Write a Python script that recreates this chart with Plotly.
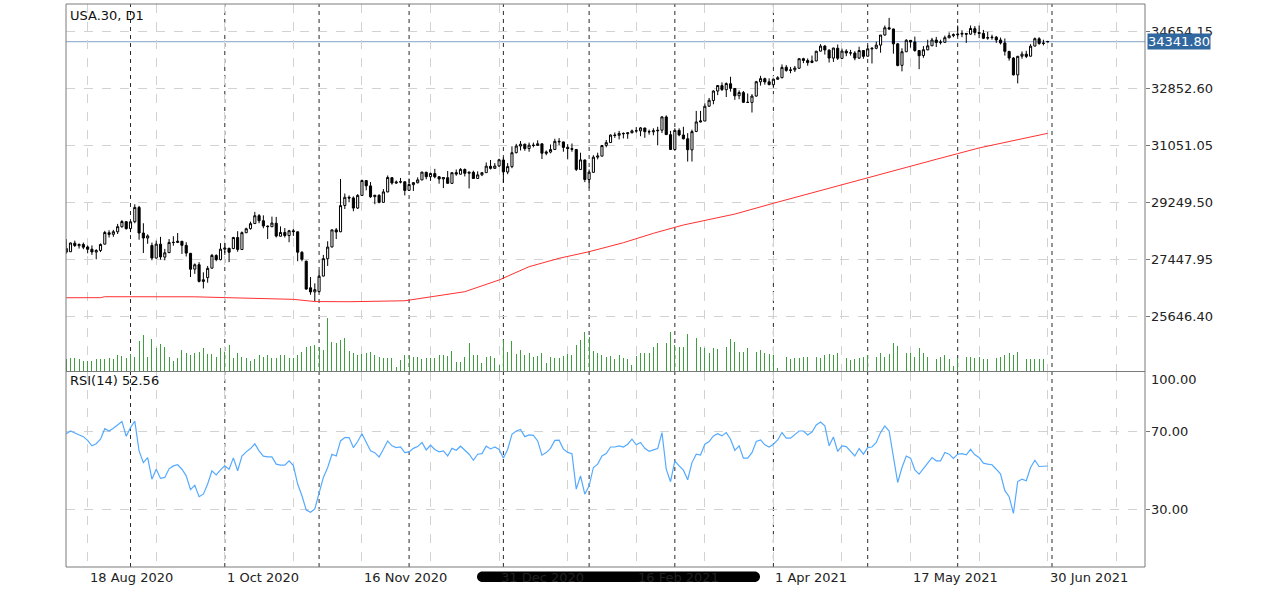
import plotly.graph_objects as go

# ---------------- data ----------------
dates = (
    ["2020-08-%02d" % d for d in (11, 12, 13, 14, 17, 18, 19, 20, 21, 24, 25, 26, 27, 28, 31)]
    + ["2020-09-%02d" % d for d in (1, 2, 3, 4, 7, 8, 9, 10, 11, 14, 15, 16, 17, 18, 21, 22, 23, 24, 25, 28, 29, 30)]
    + ["2020-10-%02d" % d for d in (1, 2, 5, 6, 7, 8, 9, 12, 13, 14, 15, 16, 19, 20, 21, 22, 23, 26, 27, 28, 29, 30)]
    + ["2020-11-%02d" % d for d in (2, 3, 4, 5, 6, 9, 10, 11, 12, 13, 16, 17, 18, 19, 20, 23, 24, 25, 26, 27, 30)]
    + ["2020-12-%02d" % d for d in (1, 2, 3, 4, 7, 8, 9, 10, 11, 14, 15, 16, 17, 18, 21, 22, 23, 24, 28, 29, 30, 31)]
    + ["2021-01-%02d" % d for d in (4, 5, 6, 7, 8, 11, 12, 13, 14, 15, 18, 19, 20, 21, 22, 25, 26, 27, 28, 29)]
    + ["2021-02-%02d" % d for d in (1, 2, 3, 4, 5, 8, 9, 10, 11, 12, 15, 16, 17, 18, 19, 22, 23, 24, 25, 26)]
    + ["2021-03-%02d" % d for d in (1, 2, 3, 4, 5, 8, 9, 10, 11, 12, 15, 16, 17, 18, 19, 22, 23, 24, 25, 26, 29, 30, 31)]
    + ["2021-04-%02d" % d for d in (1, 2, 5, 6, 7, 8, 9, 12, 13, 14, 15, 16, 19, 20, 21, 22, 23, 26, 27, 28, 29, 30)]
    + ["2021-05-%02d" % d for d in (3, 4, 5, 6, 7, 10, 11, 12, 13, 14, 17, 18, 19, 20, 21, 24, 25, 26, 27, 28, 31)]
    + ["2021-06-%02d" % d for d in (1, 2, 3, 4, 7, 8, 9, 10, 11, 14, 15, 16, 17, 18, 21, 22, 23, 24, 25, 28, 29, 30)]
)

opens = [
    27800, 27700, 27970, 27890, 27930, 27850, 27780, 27690, 27740, 27940,
    28300, 28250, 28330, 28490, 28650, 28430, 28650, 29100, 28290, 28133,
    27900, 27500, 27940, 27530, 27670, 27990, 27990, 28030, 27900, 27650,
    27150, 27290, 26760, 26880, 27180, 27580, 27450, 27780, 27810, 27800,
    28150, 27770, 28300, 28430, 28590, 28840, 28680, 28510, 28490, 28600,
    28190, 28310, 28210, 28360, 28330, 27680, 27400, 26560, 26430, 26440,
    26930, 27480, 27850, 28390, 28330, 29160, 29420, 29400, 29080, 29480,
    29950, 29780, 29440, 29480, 29260, 29590, 30040, 29870, 29900, 29910,
    29640, 29820, 29880, 29970, 30210, 30070, 30170, 30070, 30000, 30040,
    29860, 30200, 30150, 30300, 30180, 30210, 30015, 30130, 30200, 30400,
    30335, 30410, 30600, 30220, 30390, 30830, 31040, 31100, 30960, 31070,
    31060, 31110, 30810, 30850, 30930, 31190, 31170, 31000, 30960, 30930,
    30300, 30600, 29983, 30210, 30690, 30720, 31060, 31150, 31390, 31380,
    31440, 31430, 31460, 31520, 31520, 31610, 31490, 31490, 31520, 31540,
    31960, 31400, 30930, 31535, 31390, 31270, 30920, 31500, 31800, 31830,
    32300, 32480, 32780, 32950, 32820, 33010, 32860, 32630, 32730, 32420,
    32420, 32620, 33070, 33170, 33070, 32980, 33150, 33200, 33530, 33430,
    33450, 33500, 33800, 33740, 33680, 33730, 34040, 34200, 34070, 33820,
    34130, 33810, 34040, 33980, 33980, 33820, 34060, 33880, 34110, 34130,
    34230, 34550, 34780, 34740, 34270, 33590, 34020, 34380, 34330, 34060,
    33900, 34080, 34210, 34390, 34310, 34320, 34460, 34530, 34560, 34575,
    34600, 34577, 34750, 34630, 34600, 34450, 34466, 34480, 34393, 34300,
    34030, 33820, 33290, 33880, 33945, 33880, 34200, 34430, 34283, 34330,
]
highs = [
    28100, 27990, 28050, 27960, 27990, 27900, 27900, 27780, 27960, 28360,
    28380, 28390, 28580, 28700, 28660, 28660, 29199, 29150, 28600, 28250,
    27990, 28050, 28170, 27790, 28100, 28190, 28290, 28040, 28000, 27660,
    27330, 27370, 27050, 27250, 27630, 27620, 27970, 27980, 27810, 28170,
    28350, 28340, 28460, 28650, 28960, 28890, 28850, 28530, 28810, 28800,
    28500, 28450, 28390, 28420, 28330, 27720, 27420, 26900, 26700, 27100,
    27600, 28030, 28400, 28450, 30000, 29540, 29480, 29450, 29520, 29980,
    29960, 29900, 29500, 29520, 29680, 30110, 30060, 29950, 30030, 29920,
    30010, 29900, 30050, 30220, 30230, 30200, 30320, 30090, 30050, 30250,
    30200, 30300, 30340, 30330, 30220, 30260, 30240, 30210, 30520, 30600,
    30500, 30640, 30680, 30500, 31030, 31110, 31200, 31110, 31150, 31150,
    31220, 31120, 30900, 31090, 31270, 31290, 31180, 31100, 31120, 30950,
    30830, 30610, 30300, 30750, 30830, 31070, 31230, 31410, 31470, 31520,
    31470, 31470, 31560, 31640, 31640, 31620, 31560, 31600, 31650, 31980,
    32010, 31520, 31600, 31600, 31650, 31450, 31560, 32150, 32150, 32390,
    32560, 32800, 32960, 33050, 33050, 33230, 32870, 32800, 32780, 32700,
    32680, 33100, 33260, 33200, 33180, 33170, 33250, 33620, 33600, 33540,
    33570, 33810, 33830, 33810, 33900, 34050, 34260, 34230, 34100, 34150,
    34250, 34120, 34100, 34080, 34040, 34180, 34060, 34220, 34150, 34340,
    34550, 34850, 35090, 34750, 34290, 34130, 34420, 34390, 34500, 34070,
    34200, 34400, 34460, 34490, 34400, 34530, 34630, 34600, 34850, 34700,
    34610, 34850, 34830, 34850, 34710, 34650, 34560, 34520, 34470, 34440,
    34050, 33850, 33890, 34030, 34050, 34260, 34470, 34480, 34400, 34350,
]
lows = [
    27640, 27690, 27850, 27800, 27780, 27650, 27600, 27460, 27690, 27930,
    28150, 28170, 28260, 28460, 28400, 28320, 28600, 28080, 27660, 27950,
    27430, 27490, 27450, 27430, 27660, 27890, 27980, 27630, 27550, 26900,
    27000, 26730, 26540, 26720, 27170, 27400, 27430, 27660, 27370, 27780,
    27700, 27760, 28290, 28400, 28580, 28600, 28440, 28100, 28480, 28150,
    28180, 28150, 28000, 28200, 27400, 27400, 26500, 26340, 26140, 26420,
    26920, 27250, 27840, 28100, 28320, 29050, 29260, 28980, 29050, 29470,
    29640, 29400, 29200, 29230, 29250, 29580, 29820, 29840, 29860, 29480,
    29630, 29620, 29860, 29960, 29990, 29940, 30020, 29850, 29710, 29850,
    29850, 30100, 30140, 30080, 29700, 30000, 30000, 30090, 30200, 30300,
    30330, 30380, 29880, 30150, 30340, 30810, 30900, 30890, 30860, 31000,
    31050, 30630, 30750, 30810, 30920, 31070, 30860, 30620, 30860, 30250,
    30290, 29900, 29720, 30200, 30620, 30720, 31000, 31140, 31300, 31250,
    31280, 31270, 31440, 31460, 31350, 31300, 31400, 31380, 31060, 31450,
    31390, 30930, 30920, 31350, 31250, 30550, 30550, 31480, 31790, 31830,
    32280, 32360, 32650, 32780, 32590, 32760, 32500, 32520, 32400, 32400,
    32100, 32600, 32950, 32980, 32960, 32880, 33140, 33180, 33390, 33340,
    33380, 33480, 33660, 33580, 33660, 33720, 34030, 33930, 33680, 33700,
    33760, 33800, 33880, 33900, 33750, 33790, 33800, 33870, 33650, 34100,
    33990, 34530, 34710, 33960, 33560, 33400, 34010, 34150, 34020, 33470,
    33830, 34070, 34200, 34170, 34250, 34300, 34450, 34480, 34500, 34480,
    34300, 34560, 34540, 34450, 34420, 34400, 34400, 34300, 34250, 33900,
    33740, 33270, 33020, 33800, 33820, 33870, 34190, 34240, 34220, 34330,
]
closes = [
    27686, 27976, 27896, 27931, 27844, 27778, 27692, 27739, 27930, 28308,
    28249, 28332, 28492, 28654, 28430, 28646, 29100, 28292, 28133, 28200,
    27500, 27940, 27535, 27666, 27993, 27995, 28032, 27902, 27657, 27148,
    27288, 26763, 26815, 27174, 27584, 27452, 27782, 27817, 27683, 28149,
    27773, 28303, 28426, 28587, 28838, 28680, 28514, 28494, 28606, 28195,
    28309, 28211, 28364, 28336, 27685, 27463, 26520, 26430, 26502, 26925,
    27481, 27848, 28391, 28323, 29158, 29421, 29398, 29080, 29480, 29950,
    29784, 29438, 29483, 29263, 29591, 30046, 29873, 29900, 29910, 29639,
    29824, 29884, 29970, 30218, 30070, 30174, 30068, 29999, 30046, 29862,
    30199, 30155, 30303, 30179, 30216, 30015, 30129, 30199, 30404, 30335,
    30409, 30606, 30223, 30391, 30829, 31041, 31098, 30960, 31068, 31060,
    31112, 30814, 30850, 30930, 31188, 31176, 30997, 30960, 30937, 30303,
    30603, 29983, 30212, 30688, 30724, 31056, 31148, 31386, 31375, 31438,
    31431, 31458, 31520, 31523, 31613, 31494, 31494, 31522, 31537, 31962,
    31402, 30932, 31535, 31392, 31270, 30924, 31496, 31802, 31833, 32297,
    32486, 32779, 32953, 32826, 33015, 32863, 32628, 32731, 32423, 32420,
    32619, 33073, 33171, 33067, 32982, 33153, 33200, 33527, 33430, 33446,
    33504, 33801, 33746, 33677, 33731, 34036, 34200, 34078, 33821, 34137,
    33815, 34043, 33982, 33985, 33820, 34060, 33875, 34113, 34133, 34230,
    34548, 34778, 34743, 34270, 33587, 34021, 34382, 34327, 34061, 33896,
    34084, 34208, 34394, 34313, 34323, 34465, 34529, 34560, 34575, 34600,
    34577, 34756, 34630, 34600, 34447, 34466, 34480, 34393, 34299, 34033,
    33823, 33290, 33876, 33945, 33874, 34196, 34433, 34283, 34292, 34341.8,
]
volumes = [
    13000, 13200, 13200, 12200, 10800, 10500, 10800, 12200, 12200, 12200,
    13200, 12200, 16200, 15500, 13200, 17500, 14800, 30500, 36500, 14800,
    32200, 23800, 27500, 24800, 14800, 10800, 13200, 21500, 18500, 16500,
    18800, 19800, 23200, 17500, 17200, 14800, 23200, 19800, 26500, 13200,
    18200, 14800, 13200, 10800, 12200, 16500, 14800, 16500, 13200, 13200,
    16500, 16500, 13200, 13200, 16500, 19800, 24500, 25500, 26500, 24800,
    21500, 53200, 29800, 28200, 31500, 33200, 20800, 18800, 16500, 17500,
    18200, 19800, 16500, 14800, 13200, 13200, 13200, 4800, 11500, 16500,
    15500, 14800, 14200, 12200, 13200, 13500, 14000, 16500, 16500, 15500,
    20800, 9800, 9800, 14200, 28200, 16500, 16500, 8200, 14800, 15500,
    13200, 6500, 31500, 19800, 30800, 17500, 21500, 16500, 18800, 14800,
    15500, 18200, 8200, 14800, 14000, 14000, 15500, 17500, 16500, 26500,
    31500, 39800, 34200, 20800, 18800, 16500, 14800, 15500, 12200, 16500,
    13200, 12200, 6500, 15500, 18200, 18800, 18200, 24800, 28200, 27500,
    28200, 39800, 26500, 24800, 24800, 37500, 39200, 33200, 24800, 23200,
    18800, 23200, 22200, 22200, 24800, 32200, 29800, 19800, 19800, 23200,
    26500, 19800, 21500, 18200, 17500, 16500, 3200, 11500, 14800, 12200,
    13200, 13200, 14800, 14800, 14800, 14800, 13200, 16500, 17500, 16500,
    18200, 13200, 13200, 11500, 12200, 13200, 14800, 16500, 18200, 14800,
    18200, 14800, 17500, 28200, 25500, 23200, 18200, 18800, 14800, 23200,
    18200, 14800, 14200, 12200, 14800, 16500, 12200, 5500, 13200, 14800,
    14200, 14200, 13200, 14200, 12200, 12200, 12200, 13200, 14800, 16500,
    18200, 16500, 19800, 13200, 12200, 12200, 12200, 12200, 12200, 1000,
]
rsi = [
    69.1, 70.5, 69.5, 68.5, 67.6, 65.7, 62.9, 64.0, 66.3, 71.7,
    70.5, 71.9, 73.9, 75.4, 67.8, 72.2, 75.6, 60.3, 54.3, 56.9,
    45.8, 50.9, 46.2, 46.7, 51.1, 52.6, 53.2, 50.9, 47.5, 40.4,
    42.6, 36.8, 38.1, 43.3, 50.1, 48.0, 50.6, 52.6, 50.9, 56.7,
    50.1, 57.7, 59.8, 61.5, 63.9, 60.3, 57.6, 57.2, 57.2, 53.5,
    53.0, 53.0, 55.2, 52.8, 43.3, 37.3, 30.0, 28.8, 30.5, 39.3,
    46.7, 51.8, 58.6, 57.7, 65.4, 67.1, 67.1, 62.0, 65.1, 69.1,
    64.6, 60.3, 59.4, 57.2, 61.1, 65.4, 62.9, 62.0, 62.3, 59.4,
    59.8, 61.6, 62.5, 64.6, 60.8, 63.2, 61.0, 59.8, 60.3, 57.7,
    61.6, 60.6, 62.7, 60.6, 58.6, 55.5, 58.6, 58.9, 62.7, 61.3,
    62.3, 61.0, 56.6, 61.0, 68.8, 70.5, 71.3, 67.6, 68.5, 68.3,
    65.4, 58.1, 59.4, 61.6, 65.7, 65.8, 61.2, 59.5, 58.9, 40.7,
    47.5, 38.1, 42.4, 51.8, 53.5, 57.7, 58.9, 62.3, 62.3, 62.9,
    62.3, 63.7, 66.3, 63.4, 64.6, 61.6, 60.1, 60.8, 61.5, 69.7,
    50.9, 44.5, 55.2, 52.6, 50.4, 45.5, 54.3, 58.6, 58.2, 63.7,
    65.1, 68.0, 69.1, 68.0, 69.7, 66.3, 60.6, 62.9, 56.6, 56.6,
    59.4, 65.1, 65.9, 63.4, 62.3, 63.7, 65.9, 69.7, 66.8, 66.8,
    68.5, 70.5, 70.5, 68.5, 70.0, 73.6, 75.1, 73.1, 62.9, 67.4,
    60.0, 62.9, 62.5, 60.3, 57.7, 61.5, 58.6, 62.0, 62.3, 64.6,
    69.7, 73.1, 70.5, 57.2, 44.1, 51.8, 57.7, 56.6, 50.6, 48.4,
    51.4, 54.3, 56.9, 55.2, 55.2, 59.5, 58.6, 56.4, 58.6, 58.9,
    58.3, 61.1, 58.3, 56.9, 54.0, 53.5, 53.2, 50.9, 48.4, 39.9,
    36.8, 28.3, 44.6, 45.8, 45.0, 51.8, 55.5, 52.3, 52.3, 52.56,
]
# 200-period moving average, read at selected bars (bar number, value)
ma_bar = [0, 8, 9, 30, 37, 45, 53, 58, 66, 79, 86, 93, 101, 108, 115, 122, 130,
          137, 144, 149, 156, 165, 174, 181, 187, 197, 203, 208, 213, 229]
ma_val = [26245, 26248, 26278, 26275, 26250, 26225, 26195, 26125, 26120, 26150,
          26300, 26437, 26807, 27227, 27492, 27701, 27985, 28282, 28545, 28690,
          28890, 29231, 29566, 29809, 30040, 30410, 30621, 30800, 30980, 31443]

price_ticks = [25646.40, 27447.95, 29249.50, 31051.05, 32852.60, 34654.15]
rsi_ticks = [0, 30, 70, 100]
last_price = 34341.80
rsi_last = 52.56
symbol_title = "USA.30, D1"
date_label_bars = [5, 37, 69, 101, 133, 165, 197, 229]
date_labels = ["18 Aug 2020", "1 Oct 2020", "16 Nov 2020", "31 Dec 2020",
               "16 Feb 2021", "1 Apr 2021", "17 May 2021", "30 Jun 2021"]
grid_bars = [5 + 16 * k for k in range(16)]
month_start_bars = [15, 37, 59, 80, 102, 122, 142, 165, 187, 208, 230]

# ---------------- figure ----------------
W, H = 1280, 592
L, R, T, B = 66, 1145, 4, 567
SEP = 371.5
pw, ph = R - L, B - T
split = (B - SEP) / ph
FONT = "DejaVu Sans"
TXT = "#222222"

bars = list(range(len(dates)))

fig = go.Figure()
fig.add_trace(go.Bar(
    x=bars, y=volumes, yaxis="y3", width=0.22,
    marker=dict(color="#3f9f3f", line=dict(width=0)), hoverinfo="skip"))
fig.add_trace(go.Candlestick(
    x=bars, open=opens, high=highs, low=lows, close=closes, yaxis="y",
    increasing=dict(line=dict(color="#000000", width=1), fillcolor="#ffffff"),
    decreasing=dict(line=dict(color="#000000", width=1), fillcolor="#000000"),
    whiskerwidth=0, hoverinfo="skip"))
fig.add_trace(go.Scatter(
    x=ma_bar, y=ma_val, yaxis="y", mode="lines",
    line=dict(color="#ff3030", width=1), hoverinfo="skip"))
fig.add_trace(go.Scatter(
    x=bars, y=rsi, yaxis="y2", mode="lines",
    line=dict(color="#55aaff", width=1.2), hoverinfo="skip"))

px_per_bar = 4.286
x_lo = -0.05
x_hi = x_lo + pw / px_per_bar

price_per_px = 1801.55 / 57.0
y_hi = 34654.15 + (31.7 - T) * price_per_px
y_lo = 34654.15 - (SEP - 31.7) * price_per_px

grid = dict(showgrid=True, gridcolor="#d2d2d2", griddash="dash", gridwidth=1, zeroline=False)

fig.update_layout(
    width=W, height=H, paper_bgcolor="#ffffff", plot_bgcolor="#ffffff",
    margin=dict(l=L, r=W - R, t=T, b=H - B, pad=0),
    showlegend=False, hovermode=False, bargap=0,
    xaxis=dict(range=[x_lo, x_hi], tickvals=grid_bars, showticklabels=False,
               ticks="", anchor="y2", rangeslider=dict(visible=False), **grid),
    yaxis=dict(domain=[split, 1], range=[y_lo, y_hi], side="right",
               tickvals=price_ticks, showticklabels=False, ticks="outside",
               ticklen=4, tickcolor="#777777", **grid),
    yaxis2=dict(domain=[0, split], range=[0.77, 101.0], side="right",
                tickvals=rsi_ticks[1:3], showticklabels=False, ticks="outside",
                ticklen=4, tickcolor="#777777", **grid),
    yaxis3=dict(domain=[split, 1], overlaying="y", range=[0, (SEP - T) * 1000],
                visible=False, showgrid=False),
)

shapes = []
for mb in month_start_bars:
    shapes.append(dict(type="line", xref="x", yref="paper", x0=mb, x1=mb, y0=0, y1=1,
                       line=dict(color="#2a2a2a", width=1, dash="4px,4px"), layer="below"))
shapes.append(dict(type="line", xref="paper", yref="y", x0=0, x1=1, y0=last_price, y1=last_price,
                   line=dict(color="#9db5d3", width=1.2), layer="below"))
shapes.append(dict(type="rect", xref="paper", yref="paper", x0=0, x1=1, y0=0, y1=1,
                   line=dict(color="#7a7a7a", width=1)))
shapes.append(dict(type="line", xref="paper", yref="paper", x0=0, x1=1, y0=split, y1=split,
                   line=dict(color="#7a7a7a", width=1)))


def pxp(x, y):
    return "%.5f,%.5f" % ((x - L) / pw, (B - y) / ph)


# phone home-indicator bar overlaid on the screenshot
x0, x1, yt, yb = 477.0, 760.0, 571.5, 582.0
r = (yb - yt) / 2.0
cy = (yt + yb) / 2.0
c = 0.5523 * r
path = ("M" + pxp(x0 + r, yt) + " L" + pxp(x1 - r, yt)
        + " C" + pxp(x1 - r + c, yt) + " " + pxp(x1, cy - c) + " " + pxp(x1, cy)
        + " C" + pxp(x1, cy + c) + " " + pxp(x1 - r + c, yb) + " " + pxp(x1 - r, yb)
        + " L" + pxp(x0 + r, yb)
        + " C" + pxp(x0 + r - c, yb) + " " + pxp(x0, cy + c) + " " + pxp(x0, cy)
        + " C" + pxp(x0, cy - c) + " " + pxp(x0 + r - c, yt) + " " + pxp(x0 + r, yt) + " Z")
shapes.append(dict(type="path", xref="paper", yref="paper", path=path,
                   fillcolor="#000000", line=dict(width=0), layer="above"))
fig.update_layout(shapes=shapes)

ann = []
for v in price_ticks:
    ann.append(dict(xref="paper", yref="y", x=1, y=v, xanchor="left", yanchor="middle",
                    xshift=4, text="%.2f" % v, showarrow=False,
                    font=dict(family=FONT, size=13, color=TXT)))
rsi_shift = {0: 8, 30: 0, 70: 0, 100: -6}
for v in rsi_ticks:
    ann.append(dict(xref="paper", yref="y2", x=1, y=v, xanchor="left", yanchor="middle",
                    xshift=4, yshift=rsi_shift[v], text="%.2f" % v, showarrow=False,
                    font=dict(family=FONT, size=13, color=TXT)))
ann.append(dict(xref="paper", yref="y", x=1, y=last_price, xanchor="left", yanchor="middle",
                xshift=2, text="%.2f" % last_price, showarrow=False, bgcolor="#31679f",
                borderpad=0, font=dict(family=FONT, size=13, color="#ffffff")))
for b, t in zip(date_label_bars, date_labels):
    ann.append(dict(xref="x", yref="paper", x=b, y=(B - 577.5) / ph, xanchor="left",
                    yanchor="middle", text=t, showarrow=False,
                    font=dict(family=FONT, size=13, color=TXT)))
ann.append(dict(xref="paper", yref="paper", x=(68 - L) / pw, y=(B - 15) / ph, xanchor="left",
                yanchor="middle", text=symbol_title, showarrow=False,
                font=dict(family=FONT, size=13, color="#111111")))
ann.append(dict(xref="paper", yref="paper", x=(68 - L) / pw, y=(B - 380) / ph, xanchor="left",
                yanchor="middle", text="RSI(14) %.2f" % rsi_last, showarrow=False,
                font=dict(family=FONT, size=13, color="#111111")))
fig.update_layout(annotations=ann)

fig.write_html(
    "out.html",
    config={"displayModeBar": False, "staticPlot": True},
    post_script="document.body.style.margin='0px';document.body.style.overflow='hidden';",
)
